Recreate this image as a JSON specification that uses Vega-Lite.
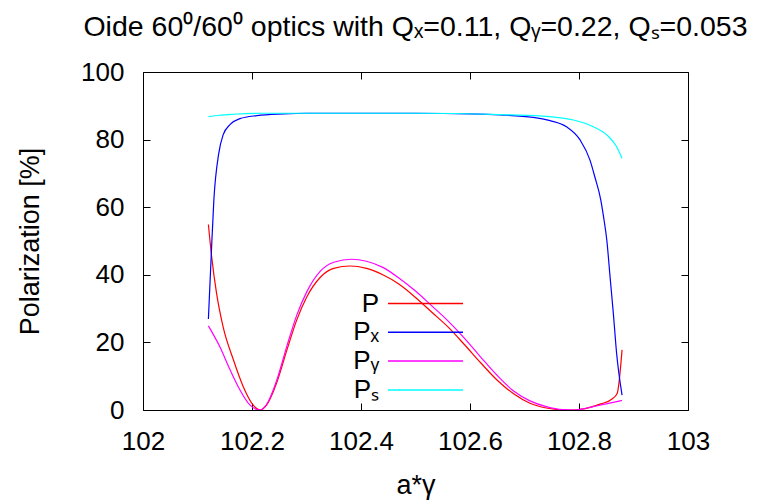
{
  "$schema": "https://vega.github.io/schema/vega-lite/v6.json",
  "width": 545,
  "height": 338,
  "autosize": {"type": "none"},
  "padding": {"left": 143, "top": 72, "right": 72, "bottom": 90},
  "background": "white",
  "config": {
    "font": "Liberation Sans",
    "view": {"stroke": "black", "strokeWidth": 1},
    "axis": {"grid": false, "domain": false, "tickColor": "black", "tickWidth": 1, "labelColor": "black", "titleColor": "black", "labelFontSize": 26, "titleFontSize": 27, "titleFontWeight": "normal", "labelFont": "Liberation Sans", "titleFont": "Liberation Sans"}
  },
  "title": {"text": "Oide 60⁰/60⁰ optics with Qₓ=0.11, Qᵧ=0.22, Qₛ=0.053", "fontSize": 28.5, "fontWeight": "normal", "font": "Liberation Sans", "anchor": "middle", "offset": 18, "color": "black"},
  "data": {"values": [
    {"x": 102.120, "y": 54.9, "s": "P"},
    {"x": 102.126, "y": 45.3, "s": "P"},
    {"x": 102.135, "y": 34.5, "s": "P"},
    {"x": 102.147, "y": 24.6, "s": "P"},
    {"x": 102.166, "y": 14.8, "s": "P"},
    {"x": 102.184, "y": 6.9, "s": "P"},
    {"x": 102.202, "y": 1.5, "s": "P"},
    {"x": 102.215, "y": 0.0, "s": "P"},
    {"x": 102.227, "y": 1.5, "s": "P"},
    {"x": 102.245, "y": 7.9, "s": "P"},
    {"x": 102.264, "y": 17.7, "s": "P"},
    {"x": 102.282, "y": 26.6, "s": "P"},
    {"x": 102.300, "y": 33.3, "s": "P"},
    {"x": 102.325, "y": 39.2, "s": "P"},
    {"x": 102.350, "y": 41.9, "s": "P"},
    {"x": 102.380, "y": 42.6, "s": "P"},
    {"x": 102.410, "y": 41.9, "s": "P"},
    {"x": 102.440, "y": 40.0, "s": "P"},
    {"x": 102.470, "y": 37.2, "s": "P"},
    {"x": 102.500, "y": 33.3, "s": "P"},
    {"x": 102.530, "y": 28.9, "s": "P"},
    {"x": 102.560, "y": 24.5, "s": "P"},
    {"x": 102.590, "y": 19.3, "s": "P"},
    {"x": 102.620, "y": 13.9, "s": "P"},
    {"x": 102.650, "y": 8.8, "s": "P"},
    {"x": 102.680, "y": 4.8, "s": "P"},
    {"x": 102.710, "y": 2.0, "s": "P"},
    {"x": 102.740, "y": 0.6, "s": "P"},
    {"x": 102.770, "y": 0.05, "s": "P"},
    {"x": 102.790, "y": 0.0, "s": "P"},
    {"x": 102.805, "y": 0.25, "s": "P"},
    {"x": 102.820, "y": 0.8, "s": "P"},
    {"x": 102.840, "y": 1.8, "s": "P"},
    {"x": 102.860, "y": 3.2, "s": "P"},
    {"x": 102.870, "y": 4.9, "s": "P"},
    {"x": 102.879, "y": 17.8, "s": "P"},

    {"x": 102.120, "y": 26.9, "s": "Pₓ"},
    {"x": 102.125, "y": 45.0, "s": "Pₓ"},
    {"x": 102.130, "y": 62.1, "s": "Pₓ"},
    {"x": 102.139, "y": 75.9, "s": "Pₓ"},
    {"x": 102.147, "y": 81.4, "s": "Pₓ"},
    {"x": 102.160, "y": 84.5, "s": "Pₓ"},
    {"x": 102.178, "y": 86.2, "s": "Pₓ"},
    {"x": 102.209, "y": 87.1, "s": "Pₓ"},
    {"x": 102.257, "y": 87.6, "s": "Pₓ"},
    {"x": 102.300, "y": 87.8, "s": "Pₓ"},
    {"x": 102.500, "y": 87.8, "s": "Pₓ"},
    {"x": 102.600, "y": 87.6, "s": "Pₓ"},
    {"x": 102.655, "y": 87.3, "s": "Pₓ"},
    {"x": 102.716, "y": 86.6, "s": "Pₓ"},
    {"x": 102.747, "y": 85.6, "s": "Pₓ"},
    {"x": 102.777, "y": 83.8, "s": "Pₓ"},
    {"x": 102.802, "y": 79.9, "s": "Pₓ"},
    {"x": 102.820, "y": 74.0, "s": "Pₓ"},
    {"x": 102.829, "y": 69.0, "s": "Pₓ"},
    {"x": 102.840, "y": 62.1, "s": "Pₓ"},
    {"x": 102.845, "y": 57.2, "s": "Pₓ"},
    {"x": 102.851, "y": 50.3, "s": "Pₓ"},
    {"x": 102.857, "y": 39.4, "s": "Pₓ"},
    {"x": 102.863, "y": 28.6, "s": "Pₓ"},
    {"x": 102.869, "y": 16.8, "s": "Pₓ"},
    {"x": 102.879, "y": 4.4, "s": "Pₓ"},

    {"x": 102.120, "y": 24.9, "s": "Pᵧ"},
    {"x": 102.141, "y": 18.7, "s": "Pᵧ"},
    {"x": 102.160, "y": 11.8, "s": "Pᵧ"},
    {"x": 102.178, "y": 5.9, "s": "Pᵧ"},
    {"x": 102.196, "y": 1.5, "s": "Pᵧ"},
    {"x": 102.215, "y": 0.0, "s": "Pᵧ"},
    {"x": 102.227, "y": 1.7, "s": "Pᵧ"},
    {"x": 102.245, "y": 8.6, "s": "Pᵧ"},
    {"x": 102.264, "y": 18.9, "s": "Pᵧ"},
    {"x": 102.282, "y": 28.0, "s": "Pᵧ"},
    {"x": 102.300, "y": 34.8, "s": "Pᵧ"},
    {"x": 102.325, "y": 41.0, "s": "Pᵧ"},
    {"x": 102.350, "y": 43.7, "s": "Pᵧ"},
    {"x": 102.383, "y": 44.6, "s": "Pᵧ"},
    {"x": 102.410, "y": 44.0, "s": "Pᵧ"},
    {"x": 102.440, "y": 42.2, "s": "Pᵧ"},
    {"x": 102.470, "y": 39.0, "s": "Pᵧ"},
    {"x": 102.500, "y": 35.2, "s": "Pᵧ"},
    {"x": 102.530, "y": 30.8, "s": "Pᵧ"},
    {"x": 102.560, "y": 26.3, "s": "Pᵧ"},
    {"x": 102.590, "y": 21.2, "s": "Pᵧ"},
    {"x": 102.620, "y": 15.6, "s": "Pᵧ"},
    {"x": 102.650, "y": 10.2, "s": "Pᵧ"},
    {"x": 102.680, "y": 5.6, "s": "Pᵧ"},
    {"x": 102.710, "y": 2.7, "s": "Pᵧ"},
    {"x": 102.740, "y": 1.0, "s": "Pᵧ"},
    {"x": 102.770, "y": 0.1, "s": "Pᵧ"},
    {"x": 102.790, "y": 0.0, "s": "Pᵧ"},
    {"x": 102.805, "y": 0.25, "s": "Pᵧ"},
    {"x": 102.820, "y": 0.8, "s": "Pᵧ"},
    {"x": 102.850, "y": 1.8, "s": "Pᵧ"},
    {"x": 102.879, "y": 2.8, "s": "Pᵧ"},

    {"x": 102.120, "y": 86.8, "s": "Pₛ"},
    {"x": 102.140, "y": 87.2, "s": "Pₛ"},
    {"x": 102.166, "y": 87.5, "s": "Pₛ"},
    {"x": 102.220, "y": 87.8, "s": "Pₛ"},
    {"x": 102.500, "y": 87.8, "s": "Pₛ"},
    {"x": 102.655, "y": 87.4, "s": "Pₛ"},
    {"x": 102.728, "y": 87.0, "s": "Pₛ"},
    {"x": 102.790, "y": 85.8, "s": "Pₛ"},
    {"x": 102.826, "y": 83.8, "s": "Pₛ"},
    {"x": 102.851, "y": 81.4, "s": "Pₛ"},
    {"x": 102.869, "y": 77.9, "s": "Pₛ"},
    {"x": 102.879, "y": 74.5, "s": "Pₛ"}
  ]},
  "layer": [
    {
      "mark": {"type": "line", "strokeWidth": 1.2, "interpolate": "monotone", "clip": true},
      "encoding": {
        "x": {"field": "x", "type": "quantitative", "scale": {"domain": [102, 103], "nice": false, "zero": false},
              "axis": {"orient": "bottom", "values": [102, 102.2, 102.4, 102.6, 102.8, 103], "format": "~g", "tickSize": -7, "labelPadding": 25, "title": "a*γ", "titlePadding": 18, "labelFlush": false}},
        "y": {"field": "y", "type": "quantitative", "scale": {"domain": [0, 100], "nice": false},
              "axis": {"orient": "left", "values": [0, 20, 40, 60, 80, 100], "tickSize": -7, "labelPadding": 26, "title": "Polarization [%]", "titlePadding": 36}},
        "color": {"field": "s", "type": "nominal",
                  "scale": {"domain": ["P", "Pₓ", "Pᵧ", "Pₛ"], "range": ["#ff0000", "#0000ff", "#ff00ff", "#00ffff"]},
                  "legend": {"orient": "none", "legendX": 269, "legendY": 218, "title": null, "symbolType": "M-3,0H3", "symbolSize": 625, "symbolStrokeWidth": 1.5, "symbolFillColor": "transparent", "symbolOpacity": 1, "labelAlign": "right", "labelOffset": -60, "labelFontSize": 26, "labelFont": "Liberation Sans", "labelColor": "black", "rowPadding": 1.8, "padding": 0,
                             "encode": {"symbols": {"update": {"stroke": {"scale": "color", "field": "value"}, "strokeWidth": {"value": 1.5}, "opacity": {"value": 1}}}}}}
      }
    },
    {
      "mark": {"type": "line", "opacity": 0},
      "encoding": {
        "x": {"field": "x", "type": "quantitative", "axis": {"orient": "top", "values": [102, 102.2, 102.4, 102.6, 102.8, 103], "labels": false, "tickSize": -7, "title": null}},
        "y": {"field": "y", "type": "quantitative", "axis": {"orient": "right", "values": [0, 20, 40, 60, 80, 100], "labels": false, "tickSize": -7, "title": null}},
        "detail": {"field": "s"}
      }
    }
  ],
  "resolve": {"axis": {"x": "independent", "y": "independent"}}
}
